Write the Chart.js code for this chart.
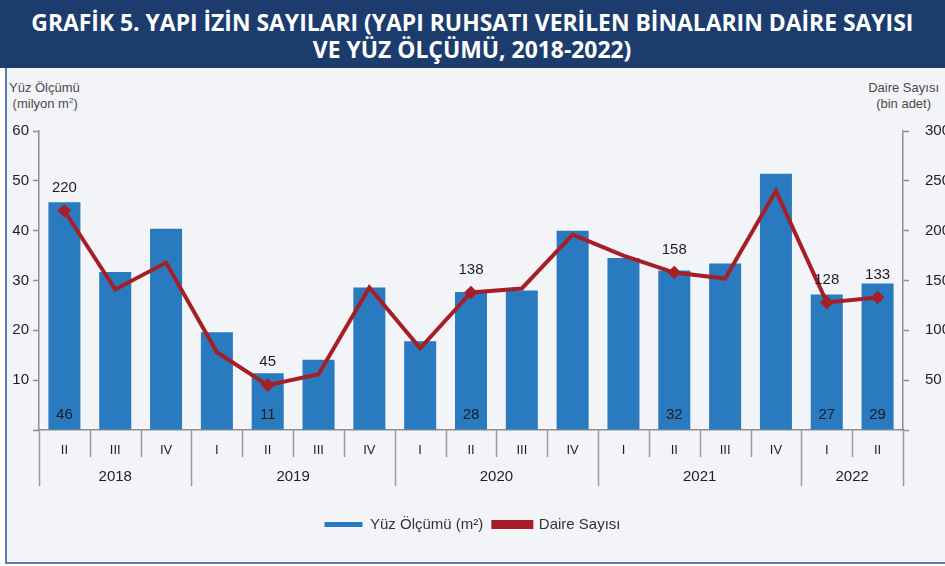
<!DOCTYPE html>
<html>
<head>
<meta charset="utf-8">
<script src="https://cdn.jsdelivr.net/npm/chart.js@4.4.1/dist/chart.umd.min.js"></script>
<style>
  html, body { margin:0; padding:0; background:#ffffff; width:945px; height:566px; overflow:hidden; }
  #frame { position:absolute; left:5px; top:0; width:960px; height:562px; background:#f3f4f8;
           border-left:2px solid #5c7cab; border-bottom:2px solid #5c7cab; }
  #banner { position:absolute; left:0; top:0; width:945px; height:68px; background:#1c3c6e; }
  .tl { position:absolute; left:0; width:945px; text-align:center; color:#ffffff;
        font-family:"Open Sans", sans-serif; font-weight:700; font-size:23px; line-height:26px; white-space:nowrap; }
  .tl span { display:inline-block; transform-origin:center center; }
  .ax { position:absolute; font-family:"Liberation Sans", Arial, sans-serif; font-size:13px; color:#4a4a4a; line-height:16px; white-space:nowrap; }
  #wrap { position:absolute; left:0; top:68px; width:945px; height:495px; }
</style>
</head>
<body>
<div id="frame"></div>
<div id="banner"></div>
<div class="tl" style="top:9px"><span id="t1">GRAFİK 5. YAPI İZİN SAYILARI (YAPI RUHSATI VERİLEN BİNALARIN DAİRE SAYISI</span></div>
<div class="tl" style="top:36px"><span id="t2">VE YÜZ ÖLÇÜMÜ, 2018-2022)</span></div>
<div class="ax" style="left:9px; top:80px;">Yüz Ölçümü<br>&nbsp;(milyon m<sup style="font-size:8px;line-height:0">2</sup>)</div>
<div class="ax" style="right:6px; top:80px; text-align:center;">Daire Sayısı<br>(bin adet)</div>
<div id="wrap"><canvas id="c" width="945" height="495"></canvas></div>
<script>
// ---- data ----
const quarterLabels = ['II','III','IV','I','II','III','IV','I','II','III','IV','I','II','III','IV','I','II'];
const yearLabels = ['2018','2019','2020','2021','2022'];
const yearQuarterCounts = [3, 4, 4, 4, 2];
const areaValues = [45.7, 31.7, 40.4, 19.6, 11.4, 14.1, 28.6, 17.8, 27.7, 28.0, 40.0, 34.5, 32.0, 33.4, 51.4, 27.2, 29.4];
const dwellingValues = [220, 141, 168, 78, 45, 56, 143, 82, 138, 142, 196, 175, 158, 152, 240, 128, 133];
const labelledPoints = [0, 4, 8, 12, 15, 16];
const areaName = 'Yüz Ölçümü (m²)';
const dwellingName = 'Daire Sayısı';

// title fit
function fit(id, w){ const el=document.getElementById(id); const nw=el.getBoundingClientRect().width; el.style.transform='scaleX('+(w/nw)+')'; return w/nw; }
const s = fit('t1', 882);
document.getElementById('t2').style.transform = 'scaleX(' + s + ')';

const FONT = '"Liberation Sans", Arial, sans-serif';
const BLUE = '#2a7abf';
const RED = '#a61f26';
const AXIS = '#8e8e8e';

const extras = {
  id: 'extras',
  afterDraw(chart) {
    const ctx = chart.ctx;
    const xs = chart.scales.x;
    const ca = chart.chartArea;
    const n = quarterLabels.length;
    const step = (xs.right - xs.left) / n;
    ctx.save();
    ctx.strokeStyle = '#9a9a9a';
    ctx.lineWidth = 1.5;
    const yearBounds = [0];
    let acc = 0;
    yearQuarterCounts.forEach(c => { acc += c; yearBounds.push(acc); });
    for (let i = 0; i <= n; i++) {
      const x = Math.round(xs.left + i * step) + 0.5;
      const isYear = yearBounds.includes(i);
      ctx.beginPath();
      ctx.moveTo(x, ca.bottom);
      ctx.lineTo(x, ca.bottom + (isYear ? 56 : 27));
      ctx.stroke();
    }
    ctx.fillStyle = '#1e1e1e';
    ctx.font = '15px ' + FONT;
    ctx.textAlign = 'center';
    ctx.textBaseline = 'middle';
    for (let k = 0; k < yearLabels.length; k++) {
      const x0 = xs.left + yearBounds[k] * step;
      const x1 = xs.left + yearBounds[k + 1] * step;
      ctx.fillText(yearLabels[k], (x0 + x1) / 2, ca.bottom + 47);
    }
    ctx.font = '15px ' + FONT;
    const lineMeta = chart.getDatasetMeta(1);
    labelledPoints.forEach(i => {
      const x = xs.getPixelForValue(i);
      ctx.fillText(String(Math.round(areaValues[i])), x, ca.bottom - 15);
      const py = lineMeta.data[i].y;
      ctx.fillText(String(Math.round(dwellingValues[i])), x, py - 23);
    });
    ctx.restore();
  }
};

new Chart(document.getElementById('c'), {
  type: 'bar',
  data: {
    labels: quarterLabels,
    datasets: [
      {
        type: 'bar', label: areaName, data: areaValues, yAxisID: 'y',
        backgroundColor: BLUE, borderWidth: 0,
        barPercentage: 0.63, categoryPercentage: 1.0, order: 2
      },
      {
        type: 'line', label: dwellingName, data: dwellingValues, yAxisID: 'y1',
        borderColor: RED, backgroundColor: RED, borderWidth: 4, tension: 0,
        pointStyle: 'rectRot',
        pointRadius: ctx => labelledPoints.includes(ctx.dataIndex) ? 4 : 0,
        pointBackgroundColor: RED, pointBorderColor: RED, order: 1
      }
    ]
  },
  options: {
    responsive: false,
    animation: false,
    layout: { padding: { top: 63, left: 0, right: 0, bottom: 21 } },
    plugins: {
      legend: {
        display: true, position: 'bottom',
        labels: {
          boxWidth: 38, boxHeight: 5, padding: 10, color: '#333333',
          font: { family: FONT, size: 15 },
          sort: (a, b) => a.datasetIndex - b.datasetIndex
        }
      },
      tooltip: { enabled: false }
    },
    scales: {
      x: {
        grid: { display: false },
        border: { display: true, color: AXIS, width: 1.5 },
        ticks: { color: '#1e1e1e', font: { family: FONT, size: 13 }, padding: 5, maxRotation: 0, autoSkip: false },
        afterFit: sc => { sc.height = 77; }
      },
      y: {
        position: 'left', min: 0, max: 60,
        grid: { drawOnChartArea: false, tickLength: 6, color: AXIS, tickWidth: 1.5 },
        border: { display: true, color: AXIS, width: 1.5 },
        ticks: { stepSize: 10, color: '#1e1e1e', font: { family: FONT, size: 15 }, padding: 4,
                 callback: v => v === 0 ? '' : v },
        afterFit: sc => { sc.width = 39; }
      },
      y1: {
        position: 'right', min: 0, max: 300,
        grid: { drawOnChartArea: false, tickLength: 6, color: AXIS, tickWidth: 1.5 },
        border: { display: true, color: AXIS, width: 1.5 },
        ticks: { stepSize: 50, color: '#1e1e1e', font: { family: FONT, size: 15 }, padding: 16,
                 callback: v => v === 0 ? '' : v },
        afterFit: sc => { sc.width = 42; }
      }
    }
  },
  plugins: [extras]
});
</script>
</body>
</html>
